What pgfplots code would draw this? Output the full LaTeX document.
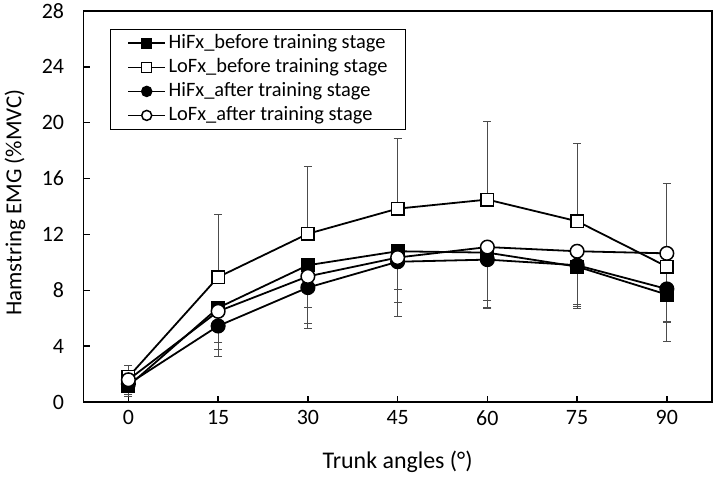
\documentclass[border=0pt]{standalone}
\usepackage{fontspec}
\setmainfont{Carlito}
\usepackage{pgfplots}
\pgfplotsset{compat=1.18}
\begin{document}
\begin{tikzpicture}
\path[use as bounding box] (-83.5bp,-76bp) rectangle (633.3bp,402bp);
\begin{axis}[
  at={(0,0)}, anchor=south west,
  scale only axis, width=628bp, height=391bp,
  xmin=-7.5, xmax=97.5, ymin=0, ymax=28,
  xtick={0,15,30,45,60,75,90}, ytick={0,4,8,12,16,20,24,28},
  tick align=inside, tick pos=left,
  major tick length=6bp,
  axis line style={line width=1.8bp},
  every tick/.style={black, line width=1.5bp},
  tick label style={font=\fontsize{22}{24}\selectfont},
  /pgf/number format/assume math mode=true,
  xticklabel style={yshift=-5bp},
  yticklabel style={xshift=-16bp},
  xlabel={Trunk angles (°)}, ylabel={Hamstring EMG (\%MVC)},
  xlabel style={font=\fontsize{24}{26}\selectfont, at={(axis description cs:0.5,-0.1535)},anchor=center},
  ylabel style={font=\fontsize{23}{25}\selectfont, at={(axis description cs:-0.109,0.51)},anchor=center},
  legend style={at={(axis description cs:0.042,0.954)}, anchor=north west,
    draw=black, line width=0.8bp, font=\fontsize{20.5}{22}\selectfont,
    inner xsep=17bp, inner ysep=5bp, row sep=6bp, column sep=1.5bp,
    nodes={inner xsep=1bp, inner ysep=0bp, text height=14bp, text depth=4bp}},
  legend cell align=left,
  legend image code/.code={\draw[mark repeat=2,mark phase=2,mark size=5bp] plot coordinates {(0bp,0bp) (18.5bp,0bp) (37bp,0bp)};},
  every axis plot/.append style={line width=1.8bp, black},
  error bars/error bar style={line width=0.8bp, black!70},
  error bars/error mark=-,
  error bars/error mark options={rotate=90, line width=0.8bp, black!70, mark size=4bp},
]
\addplot[mark=square*, mark size=6.3bp, mark options={fill=black, line width=1.5bp},
  error bars/.cd, y dir=minus, y explicit] coordinates {
  (0,1.15) +- (0,0.72)
  (15,6.75) +- (0,3.49)
  (30,9.8) +- (0,4.54)
  (45,10.8) +- (0,4.66)
  (60,10.7) +- (0,3.96)
  (75,9.7) +- (0,2.99)
  (90,7.7) +- (0,3.34)
};
\addlegendentry{HiFx\_before training stage}
\addplot[mark=square*, mark size=6.3bp, mark options={fill=white, line width=1.5bp},
  error bars/.cd, y dir=plus, y explicit] coordinates {
  (0,1.8) +- (0,0.86)
  (15,8.95) +- (0,4.48)
  (30,12.05) +- (0,4.81)
  (45,13.85) +- (0,5.05)
  (60,14.5) +- (0,5.6)
  (75,12.95) +- (0,5.6)
  (90,9.7) +- (0,5.99)
};
\addlegendentry{LoFx\_before training stage}
\addplot[mark=*, mark size=6.8bp, mark options={fill=black, line width=1.5bp},
  error bars/.cd, y dir=minus, y explicit] coordinates {
  (0,1.3) +- (0,0.64)
  (15,5.45) +- (0,1.66)
  (30,8.2) +- (0,2.53)
  (45,10.05) +- (0,2.91)
  (60,10.2) +- (0,3.4)
  (75,9.8) +- (0,2.94)
  (90,8.1) +- (0,2.36)
};
\addlegendentry{HiFx\_after training stage}
\addplot[mark=*, mark size=6.8bp, mark options={fill=white, line width=1.5bp},
  error bars/.cd, y dir=minus, y explicit] coordinates {
  (0,1.6) +- (0,1.05)
  (15,6.5) +- (0,2.24)
  (30,9.0) +- (0,2.19)
  (45,10.35) +- (0,2.3)
  (60,11.1) +- (0,3.84)
  (75,10.8) +- (0,3.8)
  (90,10.65) +- (0,4.85)
};
\addlegendentry{LoFx\_after training stage}
\end{axis}
\end{tikzpicture}
\end{document}
